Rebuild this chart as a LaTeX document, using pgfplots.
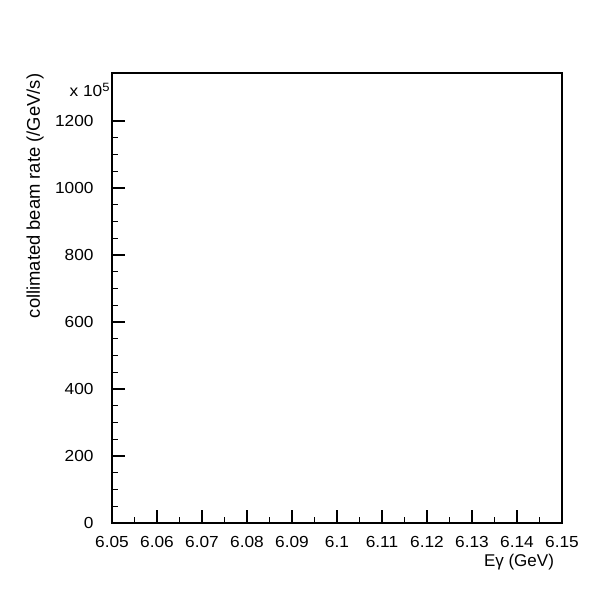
\documentclass[border=0pt]{standalone}
\usepackage{pgfplots}
\pgfplotsset{compat=1.18}
\usepackage{fontspec}
\setmainfont{Liberation Sans}
\begin{document}
\begin{tikzpicture}[x=0.5pt,y=0.5pt]
\useasboundingbox (0,0) rectangle (600,600);
\begin{axis}[
  at={(56pt,38.5pt)}, anchor=south west,
  width=225pt, height=225pt, scale only axis,
  xmin=6.05, xmax=6.15, ymin=0, ymax=1343,
  xtick={6.05,6.06,...,6.151},
  xticklabels={6.05,6.06,6.07,6.08,6.09,6.1,6.11,6.12,6.13,6.14,6.15},
  ytick={0,200,...,1200},
  yticklabels={0,200,400,600,800,1000,1200},
  minor x tick num=1, minor y tick num=3,
  tick align=inside, xtick pos=left, ytick pos=left,
  major tick length=6.5pt, minor tick length=3pt,
  tick style={black, line width=0.6pt},
  axis line style={line width=0.6pt},
  /pgf/number format/assume math mode=true,
  ticklabel style={font=\fontsize{8}{9}\selectfont, xscale=1.08},
  yticklabel style={xshift=-5pt},
  xticklabel style={yshift=-3pt},
  scaled y ticks=false,
]
\end{axis}
\node[font=\fontsize{8}{9}\selectfont, anchor=west, xscale=1.08] at (62,510) {x 10$^{\mathrm{5}}$};
\node[font=\fontsize{9.2}{10}\selectfont, rotate=90] at (35,404) {collimated beam rate (/GeV/s)};
\node[font=\fontsize{8.5}{9}\selectfont, anchor=east] at (561,38) {Eγ (GeV)};
\end{tikzpicture}
\end{document}
